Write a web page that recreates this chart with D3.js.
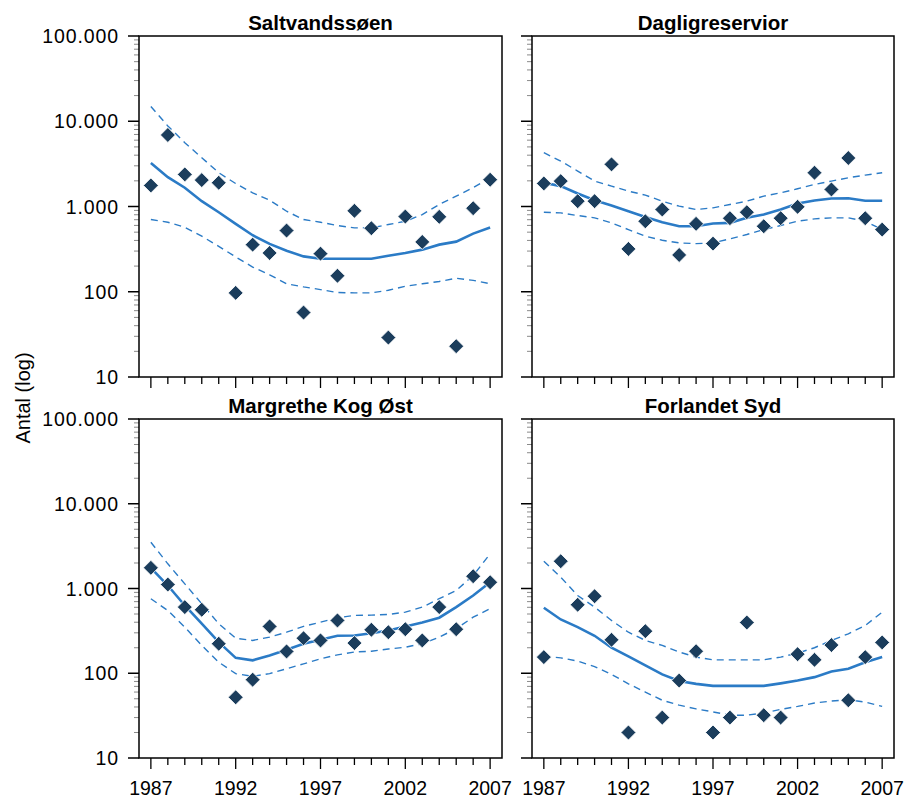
<!DOCTYPE html>
<html>
<head>
<meta charset="utf-8">
<script src="https://cdn.jsdelivr.net/npm/d3@7"></script>
<style>
  html, body { margin: 0; padding: 0; background: #fff; }
  svg { display: block; font-family: "Liberation Sans", Arial, Helvetica, sans-serif; }
</style>
</head>
<body>
<svg id="chart"></svg>
<script>
const years = d3.range(1987, 2008);
const yearLabels = [1987, 1992, 1997, 2002, 2007];
const yTickValues = [10, 100, 1000, 10000, 100000];
const yTickLabels = ['10', '100', '1.000', '10.000', '100.000'];
const titles = ['Saltvandssøen', 'Dagligreservior', 'Margrethe Kog Øst', 'Forlandet Syd'];

// Saltvandssøen
const saltObs = [1766, 6900, 2380, 2040, 1900, 97, 357, 285, 522, 57, 280, 154, 890, 556, 29, 762, 384, 756, 23, 955, 2060];
const saltTrend = [3230, 2210, 1660, 1155, 857, 626, 460, 364, 303, 260, 244, 244, 244, 244, 265, 285, 312, 357, 387, 481, 566];
const saltUpper = [14900, 8800, 5610, 3740, 2490, 1860, 1445, 1185, 880, 703, 654, 598, 561, 561, 614, 671, 805, 1056, 1325, 1660, 2175];
const saltLower = [703, 654, 571, 448, 341, 256, 195, 158, 124, 114, 106, 98, 97, 97, 104, 116, 124, 132, 144, 136, 124];

// Dagligreservior
const dagObs = [1865, 1985, 1155, 1155, 3120, 318, 671, 922, 270, 626, 367, 729, 857, 587, 729, 991, 2490, 1585, 3705, 729, 536];
const dagTrend = [1898, 1735, 1422, 1186, 1028, 881, 755, 654, 587, 587, 631, 643, 736, 805, 922, 1084, 1177, 1242, 1250, 1166, 1166];
const dagUpper = [4280, 3410, 2605, 1985, 1735, 1515, 1360, 1155, 1009, 922, 964, 1056, 1155, 1322, 1449, 1614, 1815, 1985, 2172, 2337, 2490];
const dagLower = [857, 841, 783, 736, 643, 536, 448, 402, 374, 367, 374, 417, 469, 536, 598, 672, 716, 736, 736, 672, 536];

// Margrethe Kog Øst
const margObs = [1754, 1114, 603, 561, 223, 52, 84, 357, 181, 259, 244, 420, 227, 326, 305, 331, 244, 603, 331, 1396, 1186];
const margTrend = [1754, 1085, 630, 384, 233, 152, 142, 162, 189, 223, 248, 277, 279, 297, 320, 357, 397, 452, 603, 826, 1186];
const margUpper = [3515, 1955, 1135, 660, 384, 259, 244, 267, 305, 357, 401, 452, 481, 485, 494, 526, 603, 757, 947, 1422, 2565];
const margLower = [757, 550, 350, 213, 135, 99, 92, 99, 113, 129, 148, 165, 178, 182, 193, 203, 223, 267, 335, 459, 577];

// Forlandet Syd
const forlObs = [155, 2099, 643, 811, 248, 20, 314, 30, 82, 182, 20, 30, 397, 32, 30, 168, 144, 215, 48, 155, 231];
const forlTrend = [592, 431, 350, 277, 200, 158, 124, 97, 81, 75, 71, 71, 71, 71, 76, 82, 90, 105, 113, 135, 155];
const forlUpper = [2099, 1359, 826, 603, 420, 305, 244, 213, 178, 155, 144, 144, 144, 144, 155, 173, 200, 244, 292, 366, 526];
const forlLower = [158, 152, 139, 120, 97, 75, 60, 48, 42, 38, 35, 32, 32, 34, 37.5, 40.6, 44.5, 47, 48.8, 45.7, 40.6];

const panels = [
  { title: titles[0], obs: saltObs, trend: saltTrend, upper: saltUpper, lower: saltLower },
  { title: titles[1], obs: dagObs, trend: dagTrend, upper: dagUpper, lower: dagLower },
  { title: titles[2], obs: margObs, trend: margTrend, upper: margUpper, lower: margLower },
  { title: titles[3], obs: forlObs, trend: forlTrend, upper: forlUpper, lower: forlLower },
];

const width = 908, height = 803;
const cols = [{ x0: 139, x1: 502 }, { x0: 532, x1: 894 }];
const rows = [{ y0: 36, y1: 377 }, { y0: 419, y1: 758 }];

const LINE = '#2b7bc6';
const MARK = '#1b3d5c';

const svg = d3.select('#chart').attr('width', width).attr('height', height);

// y-axis title
svg.append('text')
  .attr('transform', `translate(30,398) rotate(-90)`)
  .attr('text-anchor', 'middle')
  .style('font-size', '20px')
  .text('Antal (log)');

panels.forEach((p, i) => {
  const c = cols[i % 2], r = rows[Math.floor(i / 2)];
  const showYLabels = i % 2 === 0;
  const showXLabels = Math.floor(i / 2) === 1;

  const x = d3.scaleLinear().domain([1986.3, 2007.7]).range([c.x0, c.x1]);
  const y = d3.scaleLog().domain([10, 100000]).range([r.y1, r.y0]);

  const g = svg.append('g');

  // title
  g.append('text')
    .attr('x', (c.x0 + c.x1) / 2)
    .attr('y', r.y0 - 6)
    .attr('text-anchor', 'middle')
    .style('font-size', '20.5px')
    .style('font-weight', 'bold')
    .text(p.title);

  // minor y ticks
  const minor = [];
  [10, 100, 1000, 10000].forEach(d => {
    for (let k = 2; k <= 9; k++) minor.push(d * k);
  });
  g.append('g')
    .selectAll('line')
    .data(minor)
    .enter()
    .append('line')
    .attr('x1', c.x0 - 5)
    .attr('x2', c.x0)
    .attr('y1', d => y(d))
    .attr('y2', d => y(d))
    .attr('stroke', '#8a8a8a')
    .attr('stroke-width', 1);

  // major y ticks
  g.append('g')
    .selectAll('line')
    .data(yTickValues)
    .enter()
    .append('line')
    .attr('x1', c.x0 - 11)
    .attr('x2', c.x0)
    .attr('y1', d => y(d))
    .attr('y2', d => y(d))
    .attr('stroke', '#000')
    .attr('stroke-width', 1.5);

  if (showYLabels) {
    g.append('g')
      .selectAll('text')
      .data(yTickValues)
      .enter()
      .append('text')
      .attr('x', c.x0 - 20)
      .attr('y', d => y(d))
      .attr('dy', '0.36em')
      .attr('text-anchor', 'end')
      .style('font-size', '19.5px')
      .style('letter-spacing', '0.9px')
      .text((d, j) => yTickLabels[j]);
  }

  // x ticks
  g.append('g')
    .selectAll('line')
    .data(years)
    .enter()
    .append('line')
    .attr('x1', d => x(d))
    .attr('x2', d => x(d))
    .attr('y1', r.y1)
    .attr('y2', d => r.y1 + (yearLabels.includes(d) ? 11 : 7))
    .attr('stroke', '#000')
    .attr('stroke-width', 1.3);

  if (showXLabels) {
    g.append('g')
      .selectAll('text')
      .data(yearLabels)
      .enter()
      .append('text')
      .attr('x', d => x(d))
      .attr('y', r.y1 + 37)
      .attr('text-anchor', 'middle')
      .style('font-size', '19.5px')
      .text(d => d);
  }

  // frame
  g.append('rect')
    .attr('x', c.x0)
    .attr('y', r.y0)
    .attr('width', c.x1 - c.x0)
    .attr('height', r.y1 - r.y0)
    .attr('fill', 'none')
    .attr('stroke', '#000')
    .attr('stroke-width', 1.5);

  const line = vals => d3.line()
    .x((d, j) => x(years[j]))
    .y(d => y(d))(vals);

  // confidence bands
  [p.upper, p.lower].forEach(band => {
    g.append('path')
      .attr('d', line(band))
      .attr('fill', 'none')
      .attr('stroke', LINE)
      .attr('stroke-width', 1.4)
      .attr('stroke-dasharray', '7,5');
  });

  // trend
  g.append('path')
    .attr('d', line(p.trend))
    .attr('fill', 'none')
    .attr('stroke', LINE)
    .attr('stroke-width', 2.6);

  // observations
  g.append('g')
    .selectAll('path')
    .data(p.obs)
    .enter()
    .append('path')
    .attr('d', d3.symbol(d3.symbolSquare).size(112))
    .attr('transform', (d, j) => `translate(${x(years[j])},${y(d)}) rotate(45)`)
    .attr('fill', MARK)
    .attr('stroke', '#fff')
    .attr('stroke-width', 0.8);
});
</script>
</body>
</html>
